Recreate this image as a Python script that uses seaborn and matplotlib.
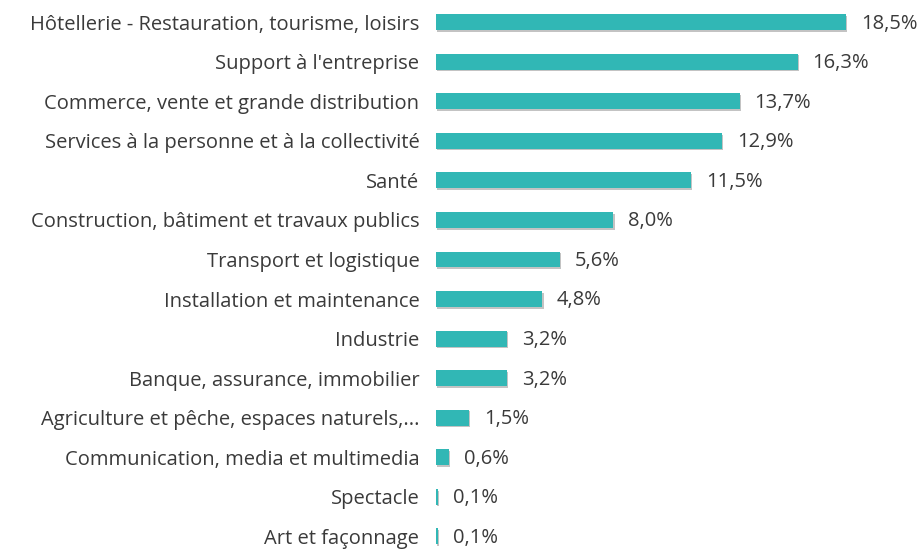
import pandas as pd
import matplotlib.pyplot as plt
import matplotlib.patheffects as pe
import seaborn as sns

# Data
sectors = [
    "Hôtellerie - Restauration, tourisme, loisirs",
    "Support à l'entreprise",
    "Commerce, vente et grande distribution",
    "Services à la personne et à la collectivité",
    "Santé",
    "Construction, bâtiment et travaux publics",
    "Transport et logistique",
    "Installation et maintenance",
    "Industrie",
    "Banque, assurance, immobilier",
    "Agriculture et pêche, espaces naturels,...",
    "Communication, media et multimedia",
    "Spectacle",
    "Art et façonnage",
]
shares = [18.5, 16.3, 13.7, 12.9, 11.5, 8.0, 5.6, 4.8, 3.2, 3.2, 1.5, 0.6, 0.1, 0.1]
value_labels = ["18,5%", "16,3%", "13,7%", "12,9%", "11,5%", "8,0%", "5,6%",
                "4,8%", "3,2%", "3,2%", "1,5%", "0,6%", "0,1%", "0,1%"]

df = pd.DataFrame({"sector": sectors, "share": shares})

sns.set_theme(style="white")
plt.rcParams["font.family"] = ["Open Sans", "DejaVu Sans"]

fig = plt.figure(figsize=(9.24, 5.53), dpi=100)
ax = fig.add_axes([436 / 924, 0, 1 - 436 / 924, 1])

sns.barplot(data=df, x="share", y="sector", orient="h", color="#31b7b5",
            saturation=1, width=0.4, linewidth=0, ax=ax)

# soft drop shadow like the original
for bar in ax.patches:
    bar.set_path_effects([pe.SimplePatchShadow(offset=(0.8, -1.2), shadow_rgbFace="#555555",
                                               alpha=0.35),
                          pe.Normal()])

for i, lab in enumerate(value_labels):
    ax.annotate(lab, xy=(shares[i], i), xytext=(10.5, -1), textcoords="offset points",
                va="center", ha="left", fontsize=14.5, color="#3a3a3a")

ax.set_xlim(0, 22.0)
ax.set_ylim(13.42, -0.56)
ax.set_xlabel("")
ax.set_ylabel("")
ax.set_xticks([])
ax.tick_params(axis="y", length=0, pad=12, labelsize=14.5, labelcolor="#3a3a3a")
sns.despine(ax=ax, left=True, bottom=True)

fig.savefig("out.png", dpi=100)
